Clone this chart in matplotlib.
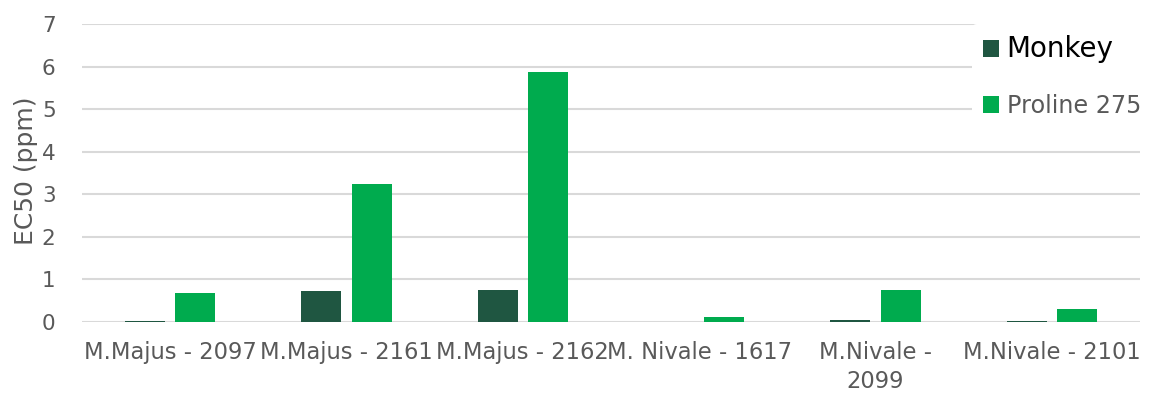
import matplotlib
matplotlib.use("Agg")
import matplotlib.pyplot as plt
import numpy as np

categories = ["M.Majus - 2097", "M.Majus - 2161", "M.Majus - 2162",
              "M. Nivale - 1617", "M.Nivale -\n2099", "M.Nivale - 2101"]
monkey = [0.03, 0.73, 0.76, 0.0, 0.05, 0.03]
proline = [0.67, 3.24, 5.87, 0.12, 0.74, 0.30]
yticks = [0, 1, 2, 3, 4, 5, 6, 7]

plt.rcParams['font.family'] = ['DejaVu Sans']
gray = "#595959"

W, H = 1158, 401
fig = plt.figure(figsize=(W/100, H/100), dpi=100)
ax = fig.add_axes([82/W, 1 - 322/H, (1140-82)/W, (322-24)/H])

x = np.arange(len(categories))
w = 0.227
off = 0.142
ax.bar(x - off, monkey, w, color="#1f5641", label="Monkey", zorder=3)
ax.bar(x + off, proline, w, color="#00ab4e", label="Proline 275", zorder=3)

ax.set_xlim(-0.5, len(categories) - 0.5)
ax.set_ylim(0, 7)
ax.set_yticks(yticks)
ax.set_yticklabels([str(t) for t in yticks], fontsize=15.5, color=gray)
ax.set_xticks(x)
ax.set_xticklabels(categories, fontsize=16.3, color=gray, linespacing=1.3)
ax.tick_params(axis='both', length=0)
ax.tick_params(axis='y', pad=19)
ax.tick_params(axis='x', pad=14)
ax.yaxis.grid(True, color="#d9d9d9", linewidth=1.5, zorder=0)
ax.set_axisbelow(True)
for s in ax.spines.values():
    s.set_visible(False)
ax.set_ylabel("EC50 (ppm)", fontsize=18, color=gray)
ax.yaxis.set_label_coords(-44/1058, (322-171)/298)

leg = ax.legend(loc="upper left", bbox_to_anchor=(972/W, 1 - 24/H),
                bbox_transform=fig.transFigure, frameon=True,
                facecolor="white", edgecolor="none", framealpha=1,
                fontsize=17.2, handlelength=0.7, handleheight=0.7,
                handletextpad=0.3, labelspacing=1.3, borderpad=0.45,
                borderaxespad=0)
texts = leg.get_texts()
texts[0].set_color("black")
texts[0].set_fontsize(20)
texts[1].set_color(gray)

fig.savefig("out.png", dpi=100)
